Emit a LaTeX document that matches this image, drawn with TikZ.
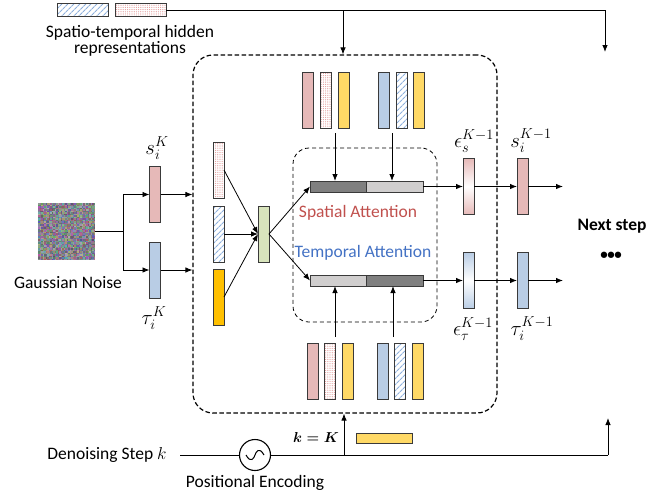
\documentclass[tikz,border=0pt]{standalone}
\usepackage{fontspec}
\setmainfont{Carlito}
\usepackage{amsmath}
\usetikzlibrary{patterns.meta,arrows.meta}
\definecolor{pinkc}{HTML}{E6B9B8}
\definecolor{bluec}{HTML}{B9CDE5}
\definecolor{yellowc}{HTML}{FFD966}
\definecolor{orangec}{HTML}{FFC000}
\definecolor{greenc}{HTML}{D8E4BC}
\definecolor{darkbar}{HTML}{808080}
\definecolor{lightbar}{HTML}{D0CECE}
\definecolor{edgec}{HTML}{3A3A3A}
\definecolor{dotc}{HTML}{E39A9A}
\definecolor{hatchc}{HTML}{8EB0DD}
\definecolor{redtxt}{HTML}{C0504D}
\definecolor{bluetxt}{HTML}{4472C4}
\tikzset{
  bar/.style={draw=edgec, line width=0.8pt, minimum width=11pt, minimum height=56pt, inner sep=0pt, outer sep=0pt},
  pinkbar/.style={bar, fill=pinkc},
  bluebar/.style={bar, fill=bluec},
  yellowbar/.style={bar, fill=yellowc},
  orangebar/.style={bar, fill=orangec},
  greenbar/.style={bar, fill=greenc},
  dotbar/.style={bar, preaction={fill=white}, pattern={Dots[distance=2.2pt, radius=0.6pt]}, pattern color=dotc},
  hatchbar/.style={bar, preaction={fill=white}, pattern={Lines[angle=45, distance=4pt, line width=1.1pt]}, pattern color=hatchc},
  hbar/.style={draw=edgec, line width=0.8pt, minimum height=11pt, inner sep=0pt, outer sep=0pt},
  arr/.style={-{Latex[length=7pt,width=5.5pt]}, line width=0.8pt},
  ln/.style={line width=0.8pt},
  txt/.style={font=\fontsize{17.5}{15.5}\selectfont, inner sep=0pt, align=center},
  mlab/.style={font=\fontsize{22}{22}\selectfont, inner sep=0pt},
}
\begin{document}
\begin{tikzpicture}[x=1pt,y=-1pt]
\useasboundingbox (0,0) rectangle (672,498);
% legend
\node[hatchbar, minimum width=51pt, minimum height=13pt] (leghatch) at (82.5,10) {};
\node[dotbar, minimum width=51pt, minimum height=13pt] (legdot) at (140.5,10) {};
\node[txt] (legtxt) at (130,41) {Spatio-temporal hidden\\representations};
% outer dashed box
\node[draw, line width=1.2pt, dash pattern=on 4.5pt off 2.5pt, rounded corners=20pt, minimum width=304pt, minimum height=358pt, inner sep=0pt] (outer) at (345,234) {};
% top routing
\coordinate (tbranch) at (343,10);
\coordinate (tright) at (605,10);
\coordinate (tend) at (605,52);
\draw[ln] (legdot.east) -- (tright);
\draw[arr] (tright) -- (tend);
\draw[arr] (tbranch) -- (tbranch |- outer.north);
% Gaussian noise
\node[minimum width=57pt, minimum height=57pt, inner sep=0pt] (noise) at (66.5,231.5) {};
\pgfmathsetseed{12345}
\foreach \i in {0,...,37}{
  \foreach \j in {0,...,37}{
    \pgfmathsetmacro\rr{0.33+0.38*rnd}
    \pgfmathsetmacro\gg{0.32+0.38*rnd}
    \pgfmathsetmacro\bb{0.36+0.38*rnd}
    \definecolor{nc}{rgb}{\rr,\gg,\bb}
    \fill[nc] (38+1.5*\i,203+1.5*\j) rectangle ++(1.5,1.5);
  }
}
\node[txt] (gausstxt) at (68,283) {Gaussian Noise};
% s and tau inputs
\node[pinkbar] (sK) at (155,194.5) {};
\node[bluebar] (tK) at (155,270) {};
\node[mlab] (sKl) at (157,148) {$s_i^K$};
\node[mlab] (tKl) at (154,318) {$\tau_i^K$};
\coordinate (nbranch) at (123,231.5);
\draw[ln] (noise.east) -- (nbranch);
\draw[arr] (nbranch) |- (sK.west);
\draw[arr] (nbranch) |- (tK.west);
\draw[arr] (sK.east) -- (sK.east -| outer.west);
\draw[arr] (tK.east) -- (tK.east -| outer.west);
% left column in box
\node[dotbar] (cdot) at (218.5,170) {};
\node[hatchbar] (chatch) at (218.5,234) {};
\node[orangebar] (cyel) at (218.5,297) {};
\node[greenbar] (green) at (263.5,234) {};
\draw[arr] (cdot.east) -- (green.west);
\draw[arr] (chatch.east) -- (green.west);
\draw[arr] (cyel.east) -- (green.west);
% inner dashed box
\node[draw, line width=0.8pt, dash pattern=on 4pt off 3pt, rounded corners=16pt, minimum width=144pt, minimum height=174pt, inner sep=0pt] (inner) at (365,235) {};
% attention bars
\node[hbar, fill=darkbar, minimum width=56pt] (sp1) at (338,186.5) {};
\node[hbar, fill=lightbar, minimum width=57pt] (sp2) at (394.5,186.5) {};
\node[hbar, fill=lightbar, minimum width=56pt] (tp1) at (338,280.5) {};
\node[hbar, fill=darkbar, minimum width=57pt] (tp2) at (394.5,280.5) {};
\draw[arr] (green.east) -- (sp1.west);
\draw[arr] (green.east) -- (tp1.west);
\node[txt, text=redtxt] (sattn) at (358,213) {Spatial Attention};
\node[txt, text=bluetxt] (tattn) at (363,253) {Temporal Attention};
% top groups
\node[pinkbar] (g1a) at (308,100) {};
\node[dotbar] (g1b) at (325.5,100) {};
\node[yellowbar] (g1c) at (343.5,100) {};
\node[bluebar] (g2a) at (384,100) {};
\node[hatchbar] (g2b) at (401.5,100) {};
\node[yellowbar] (g2c) at (418.5,100) {};
% bottom groups
\node[pinkbar] (b1a) at (312.5,371) {};
\node[dotbar] (b1b) at (329.5,371) {};
\node[yellowbar] (b1c) at (347.5,371) {};
\node[bluebar] (b2a) at (382.5,371) {};
\node[hatchbar] (b2b) at (399.5,371) {};
\node[yellowbar] (b2c) at (417.5,371) {};
\coordinate (ta1) at (335,133);
\coordinate (ta2) at (392,133);
\coordinate (ba1) at (335,337);
\coordinate (ba2) at (393,337);
\draw[arr] (ta1) -- (ta1 |- sp1.north);
\draw[arr] (ta2) -- (ta2 |- sp2.north);
\draw[arr] (ba1) -- (ba1 |- tp1.south);
\draw[arr] (ba2) -- (ba2 |- tp2.south);
% epsilon boxes
\node[bar, top color=pinkc, bottom color=pinkc, middle color=white] (es) at (468.5,186.5) {};
\node[bar, top color=bluec, bottom color=bluec, middle color=white] (et) at (468.5,280.5) {};
\node[pinkbar] (s1) at (522.5,186.5) {};
\node[bluebar] (t1) at (522.5,280.5) {};
\draw[arr] (sp2.east) -- (es.west);
\draw[arr] (tp2.east) -- (et.west);
\draw[arr] (es.east) -- (s1.west);
\draw[arr] (et.east) -- (t1.west);
\coordinate (sout) at (563,186.5);
\coordinate (tout) at (563,280.5);
\draw[arr] (s1.east) -- (sout);
\draw[arr] (t1.east) -- (tout);
\node[mlab] (esl) at (474,141) {$\epsilon_s^{K-1}$};
\node[mlab] (s1l) at (531,141) {$s_i^{K-1}$};
\node[mlab] (etl) at (473,329) {$\epsilon_\tau^{K-1}$};
\node[mlab] (t1l) at (532,329) {$\tau_i^{K-1}$};
\node[txt, font=\fontsize{17.5}{17}\selectfont\bfseries] (next) at (612,226) {Next step};
\node[txt, font=\fontsize{15}{15}\selectfont\bfseries] (dots) at (611,256) {\textbullet\kern-0.5pt\textbullet\kern-0.5pt\textbullet};
% bottom: denoising step
\node[txt] (dstep) at (107,455) {Denoising Step $k$};
\coordinate (dstart) at (180,455);
\node[draw, circle, line width=1.1pt, minimum size=31pt, inner sep=0pt] (pe) at (255,455) {};
\draw[line width=1pt] ([xshift=-9pt]pe.center) .. controls ([xshift=-4pt,yshift=-9pt]pe.center) and ([xshift=-1pt,yshift=-3pt]pe.center) .. (pe.center) .. controls ([xshift=1pt,yshift=3pt]pe.center) and ([xshift=4pt,yshift=9pt]pe.center) .. ([xshift=9pt]pe.center);
\node[txt] (petxt) at (255,483) {Positional Encoding};
\coordinate (kbranch) at (344,455);
\coordinate (bright) at (608,455);
\coordinate (bend) at (608,418);
\draw[ln] (dstart) -- (pe.west);
\draw[ln] (pe.east) -- (bright);
\draw[arr] (bright) -- (bend);
\draw[arr] (kbranch) -- (kbranch |- outer.south);
\node[font=\fontsize{14}{14}\selectfont, inner sep=0pt] (kK) at (316,437) {$\boldsymbol{k=K}$};
\node[draw=edgec, line width=0.8pt, fill=yellowc, minimum width=56pt, minimum height=10pt, inner sep=0pt] (kyel) at (384,438) {};
\end{tikzpicture}
\end{document}
